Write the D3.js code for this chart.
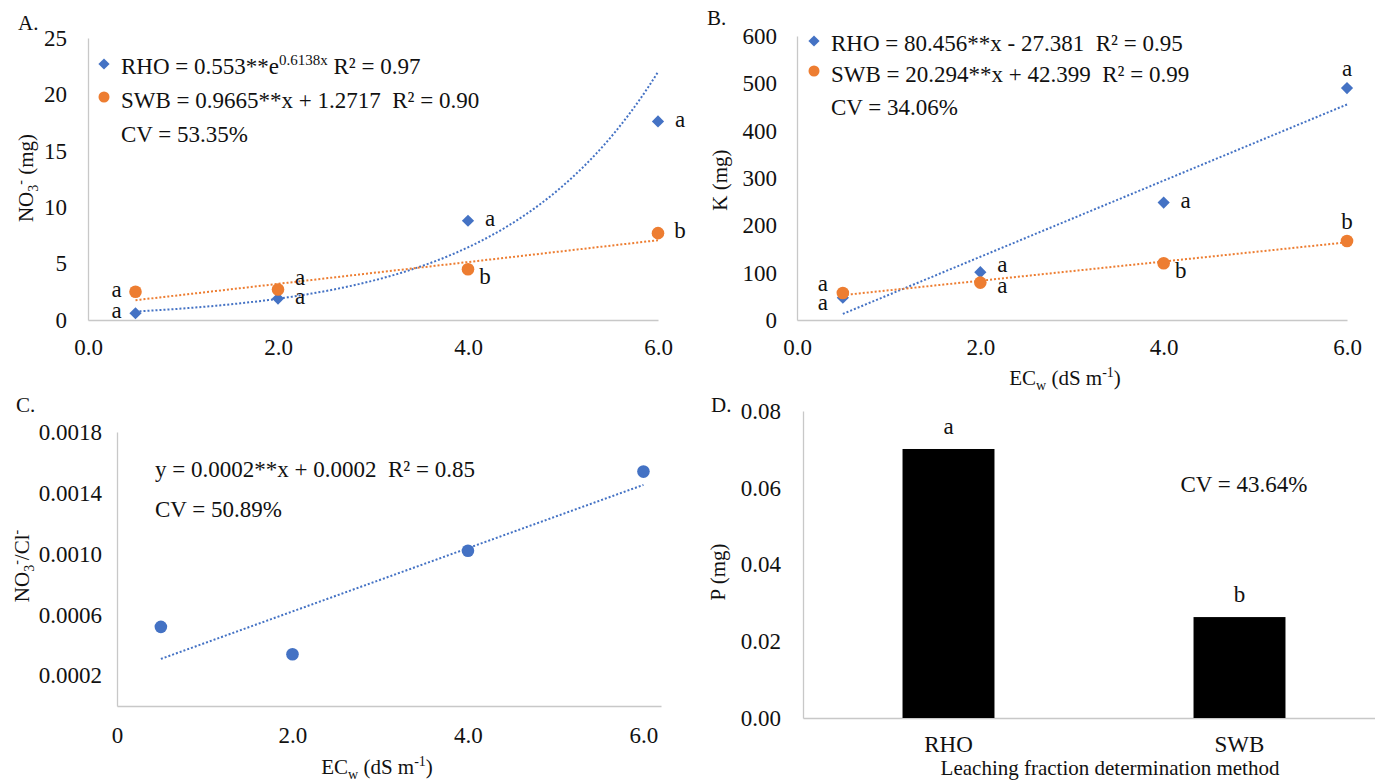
<!DOCTYPE html>
<html lang="en">
<head>
  <meta charset="UTF-8">
  <title></title>
  <style>
    html, body {
      margin: 0;
      overflow: hidden;
      width: 100%;
      height: 100%;
      background: white;
    }
    svg {
      position: absolute;
      top: 0;
      left: 0;
      width: 1375px;
      height: 781px;
      background: white;
    }
    svg text {
      font-family: 'Liberation Serif', 'Times New Roman', serif;
    }
  </style>
</head>
<body>
  <svg></svg>
</body>
<script src="https://d3js.org/d3.v7.min.js"></script>
<script type="text/javascript">
  // shared x values (ECw, dS m-1)
  const ecw = [0.5, 2, 4, 6]

  // A. NO3- (mg)
  const no3Rho = [0.6, 1.9, 8.8, 17.6]
  const no3Swb = [2.5, 2.7, 4.5, 7.7]
  const no3RhoLetters = ['a', 'a', 'a', 'a']
  const no3SwbLetters = ['a', 'a', 'b', 'b']
  const no3RhoFit = [0.553, 0.6138]   // a * e^(b x)
  const no3SwbFit = [0.9665, 1.2717]  // a x + b
  const no3Ticks = [0, 5, 10, 15, 20, 25]

  // B. K (mg)
  const kRho = [47, 101, 248, 490]
  const kSwb = [57, 79, 120, 167]
  const kRhoLetters = ['a', 'a', 'a', 'a']
  const kSwbLetters = ['a', 'a', 'b', 'b']
  const kRhoFit = [80.456, -27.381]
  const kSwbFit = [20.294, 42.399]
  const kTicks = [0, 100, 200, 300, 400, 500, 600]

  // C. NO3-/Cl-
  const ratio = [0.00052, 0.00034, 0.00102, 0.00154]
  const ratioTicks = [0.0002, 0.0006, 0.0010, 0.0014, 0.0018]

  // D. P (mg)
  const methods = ['RHO', 'SWB']
  const pValues = [0.0701, 0.0263]
  const pLetters = ['a', 'b']
  const pTicks = [0, 0.02, 0.04, 0.06, 0.08]

  const xTicks = [0, 2, 4, 6]

  const blue = '#4472c4'
  const orange = '#ed7d31'
  const grid = '#c8c8c8'
  const fs = 21      // axis titles
  const tickFs = 23  // tick labels
  const eqFs = 23    // equations / CV

  // where the significance letter sits relative to its point
  const letterOffset = {
    l: [-19, 0], r: [22, 0], ru: [22, -10], rd: [17, 10],
    rup: [22, -5], rdn: [22, 5],
    t: [0, -17], lu: [-20, -7], ld: [-20, 7]
  }
  const no3RhoPos = ['l', 'r', 'r', 'r']
  const no3SwbPos = ['l', 'ru', 'rd', 'r']
  const kRhoPos = ['ld', 'rup', 'r', 't']
  const kSwbPos = ['lu', 'rdn', 'rd', 't']

  const svg = d3.select('svg')

  function styleAxis (g) {
    g.attr('font-family', null).attr('font-size', null)
    g.select('.domain').attr('stroke', grid).attr('stroke-width', 1.3)
    g.selectAll('.tick line').remove()
    g.selectAll('.tick text')
      .attr('font-size', tickFs)
      .attr('fill', '#111')
  }

  function panelLabel (x, y, t) {
    svg.append('text').attr('x', x).attr('y', y).attr('dy', '0.32em')
      .attr('font-size', 21).attr('fill', '#111').text(t)
  }

  function ecwTitle (cx, cy) {
    const t = svg.append('text').attr('x', cx).attr('y', cy).attr('dy', '0.32em')
      .attr('text-anchor', 'middle').attr('font-size', fs).attr('fill', '#111')
    t.append('tspan').text('EC')
    t.append('tspan').attr('font-size', 14).attr('dy', 5).text('w')
    t.append('tspan').attr('dy', -5).text(' (dS m')
    t.append('tspan').attr('font-size', 14).attr('dy', -8).text('-1')
    t.append('tspan').attr('dy', 8).text(')')
  }

  function scatterPanel (o) {
    const x = d3.scaleLinear().domain(o.xDomain).range(o.xRange)
    const y = d3.scaleLinear().domain(o.yDomain).range(o.yRange)

    svg.append('g')
      .attr('transform', `translate(0,${o.yRange[0]})`)
      .call(d3.axisBottom(x).tickValues(xTicks).tickSizeOuter(0).tickSize(0).tickPadding(o.xPad)
        .tickFormat(o.xFormat))
      .call(styleAxis)
    svg.append('g')
      .attr('transform', `translate(${o.xRange[0]},0)`)
      .call(d3.axisLeft(y).tickValues(o.yTicks).tickSizeOuter(0).tickSize(0).tickPadding(o.yPad)
        .tickFormat(o.yFormat))
      .call(styleAxis)

    const g = svg.append('g')
    const xs = d3.range(ecw[0], ecw[ecw.length - 1] + 0.001, 0.05)

    // dotted trend lines
    o.series.forEach(s => {
      g.append('path')
        .datum(xs)
        .attr('d', d3.line().x(v => x(v)).y(v => y(s.fit(v))))
        .attr('fill', 'none')
        .attr('stroke', s.color)
        .attr('stroke-width', 2)
        .attr('stroke-dasharray', '2,2')
    })

    o.series.forEach(s => {
      const pts = ecw.map((v, i) => ({ x: v, y: s.values[i], i: i }))
      if (s.shape === 'diamond') {
        g.selectAll(null).data(pts).enter().append('path')
          .attr('d', d3.symbol(d3.symbolDiamond2, 95)())
          .attr('transform', d => `translate(${x(d.x)},${y(d.y)})`)
          .attr('fill', s.color)
      } else {
        g.selectAll(null).data(pts).enter().append('circle')
          .attr('cx', d => x(d.x))
          .attr('cy', d => y(d.y))
          .attr('r', 6.3)
          .attr('fill', s.color)
      }
      if (s.letters) {
        g.selectAll(null).data(pts).enter().append('text')
          .attr('x', d => x(d.x) + letterOffset[s.pos[d.i]][0])
          .attr('y', d => y(d.y) + letterOffset[s.pos[d.i]][1])
          .attr('dy', '0.22em')
          .attr('text-anchor', 'middle')
          .attr('font-size', 23)
          .attr('fill', '#111')
          .text(d => s.letters[d.i])
      }
    })
  }

  function legendLine (x, y, marker, col, parts) {
    if (marker === 'diamond') {
      svg.append('path').attr('d', d3.symbol(d3.symbolDiamond2, 80)())
        .attr('transform', `translate(${x - 17},${y - 3})`).attr('fill', col)
    } else if (marker === 'circle') {
      svg.append('circle').attr('cx', x - 17).attr('cy', y - 4).attr('r', 5.5).attr('fill', col)
    }
    const t = svg.append('text').attr('x', x).attr('y', y).attr('dy', '0.32em')
      .attr('font-size', eqFs).attr('fill', '#111').attr('xml:space', 'preserve')
    parts.forEach(p => {
      const s = t.append('tspan').text(p[0])
      if (p[1] === 'sup') s.attr('font-size', 15).attr('dy', -9)
      if (p[1] === 'down') s.attr('dy', 9)
    })
  }

  // ---------- A ----------
  panelLabel(18, 23, 'A.')
  scatterPanel({
    xDomain: [0, 6], xRange: [88, 658],
    yDomain: [0, 25], yRange: [320, 38],
    yTicks: no3Ticks, yPad: 21, xPad: 19,
    xFormat: d3.format('.1f'), yFormat: d3.format('d'),
    series: [
      { values: no3Rho, color: blue, shape: 'diamond', letters: no3RhoLetters, pos: no3RhoPos,
        fit: v => no3RhoFit[0] * Math.exp(no3RhoFit[1] * v) },
      { values: no3Swb, color: orange, shape: 'circle', letters: no3SwbLetters, pos: no3SwbPos,
        fit: v => no3SwbFit[0] * v + no3SwbFit[1] }
    ]
  })
  legendLine(121, 67, 'diamond', blue,
    [['RHO = 0.553**e'], ['0.6138x', 'sup'], [' R² = 0.97', 'down']])
  legendLine(121, 101, 'circle', orange,
    [['SWB = 0.9665**x + 1.2717  R² = 0.90']])
  legendLine(121, 135, null, null, [['CV = 53.35%']])
  {
    const t = svg.append('text').attr('transform', 'translate(26,178) rotate(-90)')
      .attr('text-anchor', 'middle').attr('dy', '0.32em').attr('font-size', fs).attr('fill', '#111')
    t.append('tspan').text('NO')
    t.append('tspan').attr('font-size', 14).attr('dy', 5).text('3')
    t.append('tspan').attr('font-size', 14).attr('dy', -13).text('-')
    t.append('tspan').attr('dy', 8).text(' (mg)')
  }

  // ---------- B ----------
  panelLabel(707, 18, 'B.')
  scatterPanel({
    xDomain: [0, 6], xRange: [797, 1347],
    yDomain: [0, 600], yRange: [320, 36],
    yTicks: kTicks, yPad: 20, xPad: 19,
    xFormat: d3.format('.1f'), yFormat: d3.format('d'),
    series: [
      { values: kRho, color: blue, shape: 'diamond', letters: kRhoLetters, pos: kRhoPos,
        fit: v => kRhoFit[0] * v + kRhoFit[1] },
      { values: kSwb, color: orange, shape: 'circle', letters: kSwbLetters, pos: kSwbPos,
        fit: v => kSwbFit[0] * v + kSwbFit[1] }
    ]
  })
  legendLine(831, 44, 'diamond', blue, [['RHO = 80.456**x - 27.381  R² = 0.95']])
  legendLine(831, 75, 'circle', orange, [['SWB = 20.294**x + 42.399  R² = 0.99']])
  legendLine(831, 108, null, null, [['CV = 34.06%']])
  svg.append('text').attr('transform', 'translate(720,180) rotate(-90)')
    .attr('text-anchor', 'middle').attr('dy', '0.32em').attr('font-size', fs).attr('fill', '#111')
    .text('K (mg)')
  ecwTitle(1065, 378)

  // ---------- C ----------
  panelLabel(16, 405, 'C.')
  {
    // least-squares line through the C points
    const mx = d3.mean(ecw), my = d3.mean(ratio)
    const sxy = d3.sum(ecw, (v, i) => (v - mx) * (ratio[i] - my))
    const sxx = d3.sum(ecw, v => (v - mx) * (v - mx))
    const slope = sxy / sxx, icpt = my - slope * mx
    scatterPanel({
      xDomain: [0, 6.2], xRange: [117, 661],
      yDomain: [0, 0.0018], yRange: [706, 432],
      yTicks: ratioTicks, yPad: 15, xPad: 21,
      xFormat: d => d === 0 ? '0' : d3.format('.1f')(d), yFormat: d3.format('.4f'),
      series: [
        { values: ratio, color: blue, shape: 'circle', fit: v => slope * v + icpt }
      ]
    })
  }
  legendLine(155, 470, null, null, [['y = 0.0002**x + 0.0002  R² = 0.85']])
  legendLine(155, 510, null, null, [['CV = 50.89%']])
  {
    const t = svg.append('text').attr('transform', 'translate(22,566) rotate(-90)')
      .attr('text-anchor', 'middle').attr('dy', '0.32em').attr('font-size', fs).attr('fill', '#111')
    t.append('tspan').text('NO')
    t.append('tspan').attr('font-size', 14).attr('dy', 5).text('3')
    t.append('tspan').attr('font-size', 14).attr('dy', -13).text('-')
    t.append('tspan').attr('dy', 8).text('/Cl')
    t.append('tspan').attr('font-size', 14).attr('dy', -8).text('-')
  }
  ecwTitle(377, 767)

  // ---------- D ----------
  panelLabel(711, 405, 'D.')
  {
    const x = d3.scaleBand().domain(methods).range([803, 1385])
      .paddingInner(0.684).paddingOuter(0.342)
    const y = d3.scaleLinear().domain([0, 0.08]).range([718, 411])

    svg.append('g')
      .attr('transform', 'translate(0,718)')
      .call(d3.axisBottom(x).tickSize(0).tickSizeOuter(0).tickPadding(18))
      .call(styleAxis)
    svg.append('g')
      .attr('transform', 'translate(803,0)')
      .call(d3.axisLeft(y).tickValues(pTicks).tickSize(0).tickSizeOuter(0).tickPadding(22)
        .tickFormat(d3.format('.2f')))
      .call(styleAxis)

    svg.selectAll('rect.bar').data(methods).enter().append('rect')
      .attr('class', 'bar')
      .attr('x', d => x(d))
      .attr('y', (d, i) => y(pValues[i]))
      .attr('width', x.bandwidth())
      .attr('height', (d, i) => y(0) - y(pValues[i]))
      .attr('fill', '#000')

    svg.selectAll('text.sig').data(methods).enter().append('text')
      .attr('class', 'sig')
      .attr('x', d => x(d) + x.bandwidth() / 2)
      .attr('y', (d, i) => y(pValues[i]) - 22)
      .attr('dy', '0.32em')
      .attr('text-anchor', 'middle')
      .attr('font-size', 23)
      .attr('fill', '#111')
      .text((d, i) => pLetters[i])
  }
  svg.append('text').attr('x', 1244).attr('y', 485).attr('dy', '0.32em')
    .attr('text-anchor', 'middle').attr('font-size', eqFs).attr('fill', '#111').text('CV = 43.64%')
  svg.append('text').attr('transform', 'translate(718,572) rotate(-90)')
    .attr('text-anchor', 'middle').attr('dy', '0.32em').attr('font-size', fs).attr('fill', '#111')
    .text('P (mg)')
  svg.append('text').attr('x', 1110).attr('y', 768).attr('dy', '0.32em')
    .attr('text-anchor', 'middle').attr('font-size', fs).attr('fill', '#111')
    .text('Leaching fraction determination method')
</script>
</html>
